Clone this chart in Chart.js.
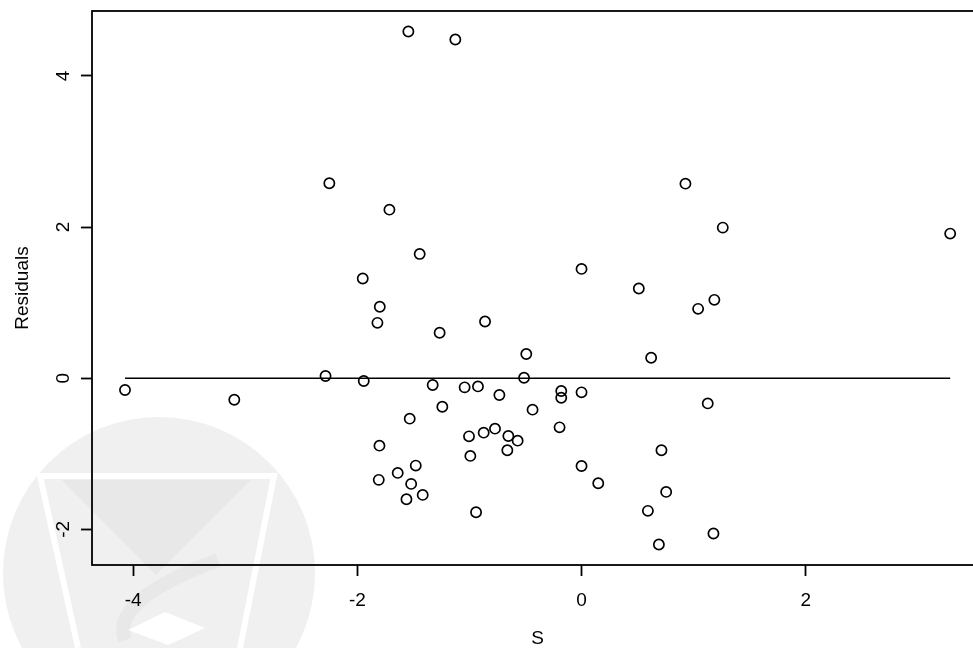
<!DOCTYPE html>
<html>
<head>
<meta charset="utf-8">
<script src="https://cdn.jsdelivr.net/npm/chart.js@4/dist/chart.umd.min.js"></script>
<style>
  html, body { margin: 0; padding: 0; background: #fff; overflow: hidden; }
  #chart { display: block; }
</style>
</head>
<body>
<canvas id="chart" width="990" height="648"></canvas>
<script>
// DATA
const sValues = [-4.073, -3.098, -2.284, -2.25, -1.952, -1.943, -1.821, -1.8, -1.803, -1.809,
                 -1.714, -1.64, -1.562, -1.545, -1.533, -1.52, -1.479, -1.444, -1.417, -1.328,
                 -1.266, -1.242, -1.126, -1.043, -1.004, -0.992, -0.941, -0.924, -0.873, -0.861,
                 -0.772, -0.733, -0.662, -0.653, -0.57, -0.513, -0.493, -0.437, -0.196, -0.181,
                 -0.181, 0.0, 0.0, 0.0, 0.149, 0.511, 0.592, 0.621, 0.69, 0.713,
                 0.755, 0.927, 1.04, 1.126, 1.177, 1.185, 1.26, 3.289];
const residuals = [-0.156, -0.284, 0.029, 2.58, 1.319, -0.037, 0.733, 0.945, -0.892, -1.345,
                   2.231, -1.253, -1.601, 4.588, -0.535, -1.398, -1.156, 1.645, -1.544, -0.09,
                   0.601, -0.377, 4.483, -0.121, -0.769, -1.028, -1.773, -0.108, -0.72, 0.751,
                   -0.667, -0.222, -0.954, -0.764, -0.826, 0.007, 0.32, -0.416, -0.65, -0.169,
                   -0.258, 1.447, -0.187, -1.161, -1.39, 1.187, -1.755, 0.271, -2.2, -0.954,
                   -1.504, 2.575, 0.918, -0.333, -2.055, 1.037, 1.993, 1.914];
const xTicks = [-4, -2, 0, 2];
const yTicks = [-2, 0, 2, 4];
const xTitle = 'S';
const yTitle = 'Residuals';

const points = sValues.map((s, i) => ({x: s, y: residuals[i]}));
const sMin = Math.min(...sValues), sMax = Math.max(...sValues);
const rMin = Math.min(...residuals), rMax = Math.max(...residuals);
// R style axis range: data range widened by 4% each side
const padX = (sMax - sMin) * 0.04, padY = (rMax - rMin) * 0.04;

const FONT = "'Liberation Sans', Arial, Helvetica, sans-serif";

// faint logo watermark behind the plot + box around plot region
const backdrop = {
    id: 'backdrop',
    beforeDraw(c) {
        const ctx = c.ctx;
        ctx.save();
        ctx.fillStyle = '#f0f0f0';
        ctx.beginPath();
        ctx.arc(159, 573, 156, 0, Math.PI * 2);
        ctx.fill();
        // white cup outline
        ctx.strokeStyle = '#ffffff';
        ctx.lineWidth = 6;
        ctx.beginPath();
        ctx.moveTo(78, 648);
        ctx.lineTo(40, 476);
        ctx.lineTo(274, 476);
        ctx.lineTo(240, 648);
        ctx.stroke();
        // inner triangle
        ctx.fillStyle = '#e8e8e8';
        ctx.beginPath();
        ctx.moveTo(62, 480);
        ctx.lineTo(251, 480);
        ctx.lineTo(156, 575);
        ctx.closePath();
        ctx.fill();
        // swirl
        ctx.strokeStyle = '#e8e8e8';
        ctx.lineWidth = 14;
        ctx.beginPath();
        ctx.moveTo(218, 560);
        ctx.quadraticCurveTo(110, 600, 125, 640);
        ctx.stroke();
        ctx.fillStyle = '#ffffff';
        ctx.beginPath();
        ctx.moveTo(128, 630);
        ctx.lineTo(165, 612);
        ctx.lineTo(205, 628);
        ctx.lineTo(168, 645);
        ctx.closePath();
        ctx.fill();
        ctx.restore();
    },
    afterDraw(c) {
        const a = c.chartArea, ctx = c.ctx;
        ctx.save();
        ctx.strokeStyle = '#000';
        ctx.lineWidth = 1.8;
        ctx.strokeRect(a.left, a.top, a.right - a.left, a.bottom - a.top);
        ctx.restore();
    }
};

function noPad(s) {
    s.paddingTop = 0; s.paddingBottom = 0; s.paddingLeft = 0; s.paddingRight = 0;
}

new Chart(document.getElementById('chart'), {
    type: 'scatter',
    data: {
        datasets: [
            {
                type: 'line',
                data: [{x: sMin, y: 0}, {x: sMax, y: 0}],
                borderColor: '#000',
                borderWidth: 1.6,
                pointRadius: 0,
                order: 2
            },
            {
                data: points,
                pointStyle: 'circle',
                pointRadius: 5.1,
                pointBorderWidth: 1.7,
                pointBorderColor: '#000',
                pointBackgroundColor: 'rgba(0,0,0,0)',
                order: 1
            }
        ]
    },
    options: {
        responsive: false,
        animation: false,
        devicePixelRatio: 1,
        layout: { padding: { top: 11, right: 5, left: 0, bottom: 0 } },
        plugins: { legend: { display: false }, tooltip: { enabled: false } },
        scales: {
            x: {
                type: 'linear',
                min: sMin - padX,
                max: sMax + padX,
                afterBuildTicks: s => { s.ticks = xTicks.map(v => ({value: v})); },
                afterFit: s => { s.height = 83; noPad(s); },
                grid: { drawOnChartArea: false, drawTicks: true, tickLength: 11, tickColor: '#000', tickWidth: 1.8 },
                border: { display: false },
                ticks: { color: '#000', font: { family: FONT, size: 19 }, padding: 13, maxRotation: 0 },
                title: { display: true, text: xTitle, color: '#000', font: { family: FONT, size: 19, lineHeight: 1 }, padding: { top: 0, bottom: 0 } }
            },
            y: {
                type: 'linear',
                min: rMin - padY,
                max: rMax + padY,
                afterBuildTicks: s => { s.ticks = yTicks.map(v => ({value: v})); },
                afterFit: s => { s.width = 92; noPad(s); },
                grid: { drawOnChartArea: false, drawTicks: true, tickLength: 11, tickColor: '#000', tickWidth: 1.8 },
                border: { display: false },
                ticks: { color: '#000', font: { family: FONT, size: 19 }, padding: 8.5, minRotation: 90, maxRotation: 90, crossAlign: 'center' },
                title: { display: true, text: yTitle, color: '#000', font: { family: FONT, size: 19, lineHeight: 1 }, padding: { top: 13.5, bottom: 0 } }
            }
        }
    },
    plugins: [backdrop]
});
</script>
</body>
</html>
